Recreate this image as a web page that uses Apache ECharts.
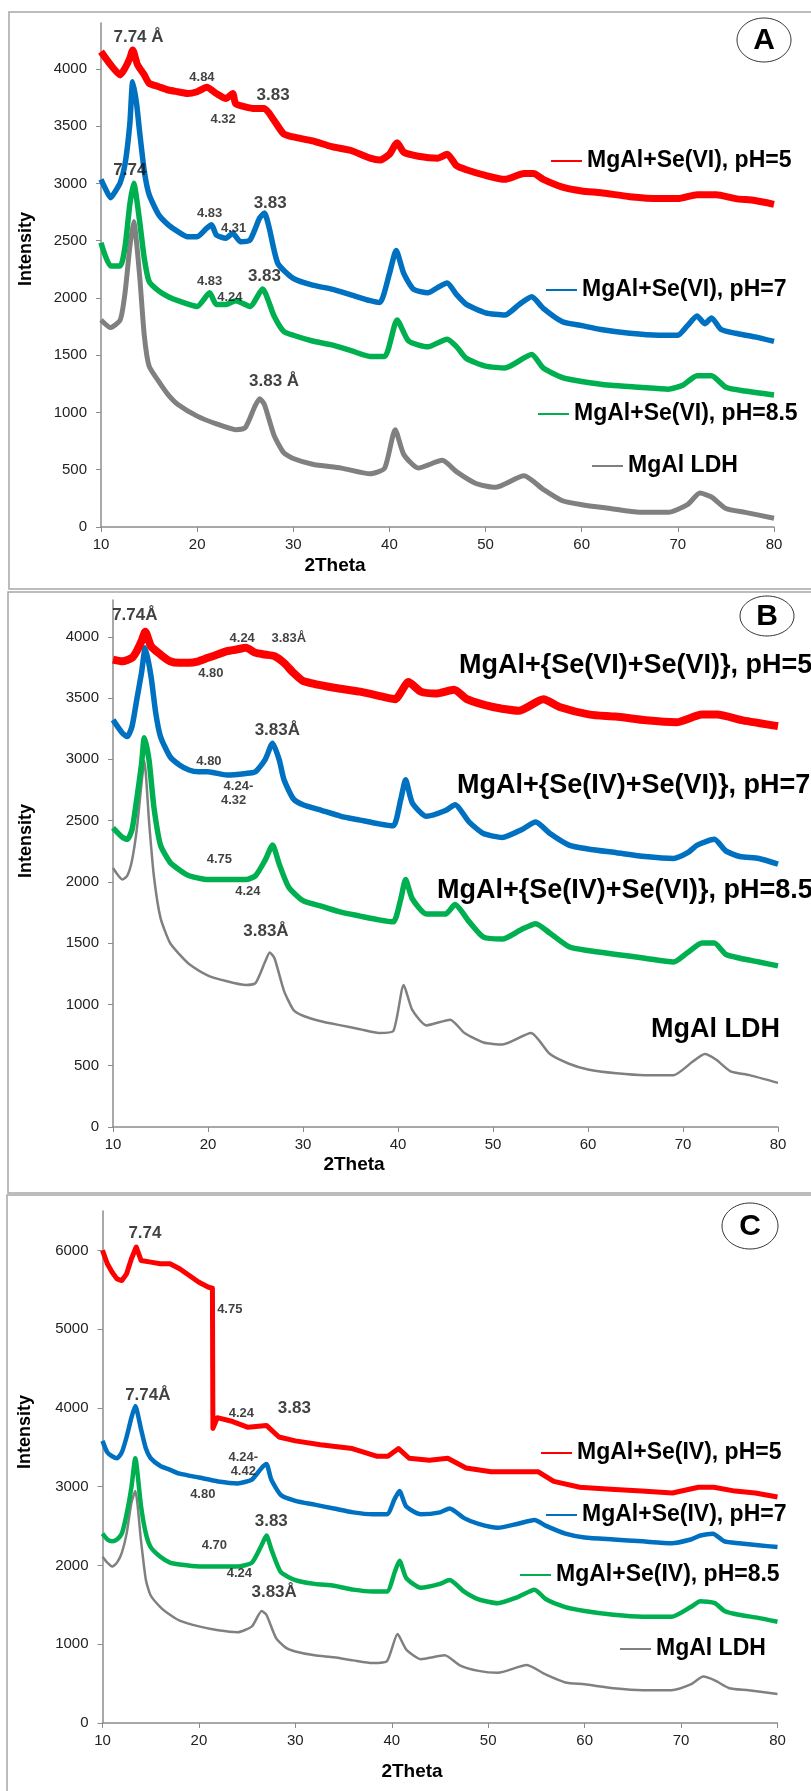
<!DOCTYPE html>
<html lang="en">
<head>
  <meta charset="UTF-8">
  <script src="https://cdn.jsdelivr.net/npm/echarts@6/dist/echarts.min.js"></script>
  <title>XRD patterns</title>
  <style>html, body { margin: 0; padding: 0; background: #fff; }</style>
</head>
<body>
  <div id="xrd" style="width: 811px; height: 1791px;"></div>

  <script>
    // axis ticks
    var twoThetaTicks = [10, 20, 30, 40, 50, 60, 70, 80];
    var intensityTicksAB = [0, 500, 1000, 1500, 2000, 2500, 3000, 3500, 4000];
    var intensityTicksC = [0, 1000, 2000, 3000, 4000, 5000, 6000];

    // series names
    var namesA = ['MgAl+Se(VI), pH=5', 'MgAl+Se(VI), pH=7', 'MgAl+Se(VI), pH=8.5', 'MgAl LDH'];
    var namesB = ['MgAl+{Se(VI)+Se(VI)}, pH=5', 'MgAl+{Se(IV)+Se(VI)}, pH=7', 'MgAl+{Se(IV)+Se(VI)}, pH=8.5', 'MgAl LDH'];
    var namesC = ['MgAl+Se(IV), pH=5', 'MgAl+Se(IV), pH=7', 'MgAl+Se(IV), pH=8.5', 'MgAl LDH'];

    // ---- panel A : [2theta, intensity] ----
    var seVI_pH5 = [[10,4150],[11,4035],[12,3947],[12.5,4006],[13,4094],[13.3,4165],[13.8,4035],[14.5,3947],[15,3874],[16,3844],[17,3815],[18,3800],[19,3785],[20,3800],[21,3838],[22,3785],[23,3741],[23.7,3785],[24,3697],[25,3668],[26,3653],[27,3653],[28,3550],[29,3432],[30,3405],[32,3371],[34,3321],[36,3287],[38,3220],[39,3203],[40,3254],[40.8,3355],[41.5,3271],[43,3237],[45,3220],[46,3254],[47,3153],[48,3119],[50,3069],[52,3035],[54,3086],[55,3086],[56,3035],[58,2968],[60,2934],[62,2918],[65,2884],[68,2867],[70,2867],[72,2901],[74,2901],[76,2867],[78,2850],[80,2817]];
    var seVI_pH7 = [[10,3035],[10.5,2947],[11,2874],[11.5,2932],[12,3006],[12.5,3168],[13,3521],[13.3,3888],[13.7,3697],[14,3462],[14.5,3109],[15,2903],[16,2726],[17,2638],[18,2579],[19,2535],[20,2535],[21,2609],[21.5,2638],[22,2550],[23,2521],[23.7,2565],[24.5,2491],[25.5,2506],[26.5,2697],[27,2741],[27.5,2609],[28.4,2300],[30,2170],[32,2111],[34,2077],[36,2027],[38,1976],[39,1960],[40,2212],[40.7,2413],[41.5,2212],[42.5,2077],[44,2044],[45,2090],[46,2130],[47,2027],[48,1943],[50,1870],[52,1850],[53.5,1943],[54.8,2010],[56,1909],[58,1792],[60,1758],[62,1724],[65,1691],[68,1674],[70,1674],[71,1758],[72,1842],[72.8,1775],[73.5,1825],[74.5,1724],[76,1691],[78,1660],[80,1620]];
    var seVI_pH85 = [[10,2481],[11,2279],[12,2279],[12.5,2447],[13,2817],[13.4,3002],[14,2682],[14.5,2346],[15,2145],[16,2061],[17,2010],[18,1976],[20,1926],[21.3,2044],[22,1943],[23,1943],[24,1976],[25.5,1926],[26.8,2077],[28,1842],[29,1708],[30,1674],[32,1624],[34,1590],[36,1540],[38,1489],[39.5,1489],[40.8,1808],[42,1624],[44,1573],[46,1640],[47,1573],[48,1472],[50,1405],[52,1388],[54.8,1506],[56,1388],[58,1304],[60,1271],[63,1237],[66,1220],[69,1203],[70.5,1237],[72,1321],[73.5,1321],[75,1220],[77,1187],[80,1153]];
    var ldhA = [[10,1808],[11,1741],[12,1808],[12.5,2044],[13,2447],[13.4,2666],[14,2212],[14.5,1674],[15,1405],[16,1271],[17,1153],[18,1069],[20,968],[22,901],[24,850],[25,867],[26,1052],[26.5,1119],[27,1069],[28,800],[29,649],[30,598],[32,548],[35,514],[38,464],[39.5,514],[40.6,850],[41.5,632],[43,514],[45.5,582],[47,481],[49,380],[51,346],[54,447],[56,329],[58,229],[60,195],[63,161],[66,128],[69,128],[71,195],[72.3,296],[73.5,262],[75,161],[77,128],[80,77]];

    // ---- panel B ----
    var mix_pH5 = [[10,3814],[11,3800],[12,3828],[12.5,3883],[13,3964],[13.4,4040],[14,3923],[15,3855],[16,3800],[17,3787],[18,3787],[19,3800],[20,3828],[21,3855],[22,3883],[23,3896],[24,3910],[25,3869],[26,3855],[27,3842],[28,3787],[29,3705],[30,3640],[33.3,3584],[36,3552],[38.7,3505],[39.7,3490],[41.1,3630],[42.4,3552],[44,3537],[45.9,3568],[47.3,3490],[50,3427],[52.7,3396],[55.3,3490],[57,3427],[60.2,3365],[62.9,3349],[66.1,3318],[69.3,3302],[72,3365],[73.6,3365],[76.3,3318],[80,3271]];
    var mix_pH7 = [[10,3322],[11,3213],[11.5,3186],[12,3268],[12.5,3486],[13,3705],[13.4,3910],[14,3678],[14.5,3377],[15,3186],[16,3022],[17,2954],[18,2913],[19,2899],[20,2899],[22,2872],[24,2885],[25,2899],[26,2995],[26.8,3131],[27.5,2995],[28,2833],[29,2676],[30,2629],[32,2582],[34,2535],[36,2504],[38,2473],[39.5,2457],[40.3,2676],[40.8,2833],[41.5,2645],[43,2535],[45,2582],[46,2629],[47.5,2488],[49,2394],[51,2363],[53,2426],[54.5,2488],[56,2394],[58,2300],[60,2269],[63,2238],[66,2207],[69,2191],[70.5,2238],[71.5,2300],[73.3,2347],[74.5,2253],[76,2207],[78,2191],[80,2144]];
    var mix_pH85 = [[10,2441],[11,2363],[11.5,2347],[12,2426],[12.5,2676],[13,2958],[13.3,3177],[13.8,2989],[14.3,2613],[15,2300],[16,2160],[17,2097],[18,2050],[20,2019],[22,2019],[24,2019],[25,2050],[26,2175],[26.8,2300],[27.5,2144],[28.5,1956],[30,1847],[32,1800],[34,1753],[36,1721],[38,1690],[39.5,1674],[40.3,1862],[40.8,2019],[41.5,1862],[43,1737],[45,1737],[46,1815],[47.5,1674],[49,1549],[51,1534],[53,1612],[54.5,1659],[56,1581],[58,1471],[60,1440],[63,1408],[66,1377],[69,1346],[70.5,1424],[72,1502],[73.3,1502],[74.5,1408],[76,1377],[78,1346],[80,1315]];
    var ldhB = [[10,2113],[11,2019],[11.5,2050],[12,2175],[12.5,2426],[13,2801],[13.3,2989],[13.8,2488],[14.3,2050],[15,1706],[16,1502],[17,1408],[18,1330],[20,1236],[22,1189],[24,1158],[25,1174],[26,1346],[26.5,1424],[27,1377],[28,1111],[29,955],[30,908],[32,861],[34,829],[36,798],[38,767],[39.5,782],[40.6,1158],[41.5,955],[43,829],[45.5,876],[47,767],[49,689],[51,673],[54,767],[56,595],[58,516],[60,469],[63,438],[66,423],[69,423],[71,532],[72.3,595],[73.5,548],[75,454],[77,423],[80,360]];

    // ---- panel C ----
    var seIV_pH5 = [[10,6000],[10.5,5830],[11,5723],[11.5,5638],[12,5617],[12.5,5702],[13,5894],[13.5,6043],[14,5872],[15,5851],[16,5830],[17,5830],[18,5766],[19,5681],[20,5596],[21,5532],[21.4,5520],[21.45,3740],[21.9,3876],[23.5,3827],[25.1,3754],[27,3778],[28.3,3631],[30,3582],[32.6,3533],[35.9,3484],[38.5,3386],[39.6,3386],[40.7,3484],[41.8,3361],[43.9,3337],[45.8,3361],[47.7,3238],[50.3,3189],[53,3189],[55.2,3189],[56.8,3067],[59.5,2993],[62.7,2969],[65.9,2944],[69.1,2920],[71.8,2993],[73.4,2993],[75.6,2944],[77.7,2920],[80,2870]];
    var seIV_pH7 = [[10,3582],[10.5,3435],[11,3386],[11.5,3361],[12,3435],[12.5,3631],[13,3876],[13.4,4024],[14,3729],[14.5,3484],[15,3361],[16,3263],[17,3214],[18,3165],[20,3116],[22,3067],[24,3042],[25.5,3091],[26.5,3238],[27,3288],[27.5,3091],[28.5,2895],[30,2821],[32,2772],[34,2723],[36,2674],[38,2650],[39.5,2650],[40.3,2846],[40.8,2944],[41.5,2748],[43,2650],[45,2674],[46,2723],[47.5,2601],[49,2527],[51,2478],[53,2527],[54.8,2576],[56,2502],[58,2404],[60,2355],[63,2330],[66,2306],[69,2282],[71,2330],[72,2380],[73.3,2404],[74.5,2306],[76,2282],[78,2257],[80,2233]];
    var seIV_pH85 = [[10,2404],[10.5,2331],[11,2306],[11.5,2331],[12,2404],[12.5,2650],[13,2993],[13.4,3361],[14,2748],[14.5,2404],[15,2233],[16,2110],[17,2036],[18,2012],[20,1987],[22,1987],[24,1987],[25.5,2036],[26.5,2257],[27,2380],[27.5,2208],[28.5,1914],[30,1815],[32,1766],[34,1742],[36,1693],[38,1668],[39.5,1668],[40.3,1914],[40.8,2061],[41.5,1840],[43,1717],[45,1766],[46,1815],[47.5,1668],[49,1570],[51,1521],[53,1595],[54.8,1693],[56,1570],[58,1472],[60,1423],[63,1374],[66,1349],[69,1349],[71,1472],[72,1546],[73.5,1521],[74.5,1423],[76,1374],[78,1335],[80,1286]];
    var ldhC = [[10,2110],[10.5,2036],[11,1987],[11.5,2036],[12,2159],[12.5,2404],[13,2797],[13.4,2944],[14,2306],[14.5,1815],[15,1619],[16,1472],[17,1374],[18,1300],[20,1227],[22,1178],[24,1153],[25.5,1227],[26.5,1423],[27,1374],[28,1079],[29,957],[30,908],[32,859],[34,834],[36,795],[38,761],[39.5,785],[40.6,1129],[41.5,932],[43,810],[45.5,859],[47,736],[49,662],[51,638],[54,736],[56,613],[58,515],[60,491],[63,442],[66,417],[69,417],[71,491],[72.3,589],[73.5,540],[75,442],[77,417],[80,368]];

    // peak annotations [2theta, intensity, text]
    var peaksA = [[13.9,4276,'7.74 Å'],[27.9,3770,'3.83'],[13.0,3115,'7.74'],[27.6,2827,'3.83'],[27.0,2190,'3.83'],[28.0,1274,'3.83 Å']];
    var minorA = [[20.5,3927,'4.84'],[22.7,3560,'4.32'],[21.3,2740,'4.83'],[23.8,2609,'4.31'],[21.3,2146,'4.83'],[23.4,2007,'4.24']];
    var peaksB = [[12.3,4179,'7.74Å'],[27.3,3240,'3.83Å'],[26.1,1597,'3.83Å']];
    var minorB = [[23.6,3984,'4.24'],[28.5,3984,'3.83Å'],[20.3,3699,'4.80'],[20.1,2984,'4.80'],[23.2,2780,'4.24-'],[22.7,2667,'4.32'],[21.2,2182,'4.75'],[24.2,1919,'4.24']];
    var peaksC = [[14.4,6214,'7.74'],[14.7,4160,'7.74Å'],[29.9,3995,'3.83'],[27.5,2560,'3.83'],[27.8,1659,'3.83Å']];
    var minorC = [[23.2,5250,'4.75'],[24.4,3930,'4.24'],[24.6,3371,'4.24-'],[24.6,3194,'4.42'],[20.4,2900,'4.80'],[21.6,2255,'4.70'],[24.2,1893,'4.24']];

    var FONT = '"Liberation Sans", Arial, sans-serif';
    var colors = ['#ff0000', '#0070c0', '#00b050', '#808080'];

    var chart = echarts.init(document.getElementById('xrd'));

    function xAxisFor(grid) {
      return {
        type: 'value', gridIndex: grid, min: 10, max: 80, interval: 10,
        axisLine: { show: true, lineStyle: { color: '#8c8c8c', width: 1.5 } },
        axisTick: { show: true, length: 5, lineStyle: { color: '#8c8c8c' }, customValues: twoThetaTicks },
        axisLabel: { color: '#222', fontSize: 15, fontFamily: FONT, margin: 10, customValues: twoThetaTicks,
                     formatter: function (v) { return String(v); } },
        splitLine: { show: false }
      };
    }

    function yAxisFor(grid, max, step, ticks) {
      return {
        type: 'value', gridIndex: grid, min: 0, max: max, interval: step,
        axisLine: { show: true, lineStyle: { color: '#8c8c8c', width: 1.5 } },
        axisTick: { show: true, length: 5, lineStyle: { color: '#8c8c8c' }, customValues: ticks },
        axisLabel: { color: '#222', fontSize: 15, fontFamily: FONT, margin: 14, customValues: ticks,
                     formatter: function (v) { return String(v); } },
        splitLine: { show: false }
      };
    }

    // noisy scans are drawn as thick bands
    function curve(name, data, color, width, grid, smooth) {
      return {
        type: 'line', name: name, data: data, xAxisIndex: grid, yAxisIndex: grid,
        symbol: 'none', showSymbol: false, silent: true, animation: false,
        smooth: smooth === undefined ? 0.2 : smooth,
        lineStyle: { color: color, width: width, join: 'round' },
        itemStyle: { color: color }
      };
    }

    function notes(list, size, grid) {
      return {
        type: 'scatter', xAxisIndex: grid, yAxisIndex: grid, silent: true, animation: false,
        symbolSize: 1, itemStyle: { color: 'transparent' }, z: 5,
        data: list.map(function (d) { return { value: [d[0], d[1]], name: d[2] }; }),
        label: { show: true, position: 'inside', formatter: '{b}', color: '#111',
                 fontSize: size, fontWeight: 'bold', fontFamily: FONT }
      };
    }

    function legendItem(name, left, centerY, size, withLine) {
      var lh = Math.round(size * 1.15);
      return {
        data: [name], left: left, top: centerY - lh / 2, padding: 0, selectedMode: false,
        icon: 'rect', itemWidth: withLine ? 31 : 0, itemHeight: 2,
        textStyle: { fontSize: size, fontWeight: 'bold', color: '#000', fontFamily: FONT, lineHeight: lh }
      };
    }

    function panelText(txt, x, y, size, rotate) {
      return {
        type: 'text', x: x, y: y, rotation: rotate ? Math.PI / 2 : 0, silent: true,
        style: { text: txt, fontSize: size, fontWeight: 'bold', fontFamily: FONT, fill: '#000',
                 textAlign: 'center', textVerticalAlign: 'middle' }
      };
    }

    function badge(letter, cx, cy, rx, ry) {
      return [
        { type: 'ellipse', shape: { cx: cx, cy: cy, rx: rx, ry: ry }, silent: true,
          style: { fill: '#fff', stroke: '#333', lineWidth: 1 } },
        panelText(letter, cx, cy + 1, 30, false)
      ];
    }

    var graphics = [
      { type: 'rect', shape: { x: 9, y: 12, width: 830, height: 577 }, silent: true, style: { fill: 'none', stroke: '#a6a6a6', lineWidth: 1.5 } },
      { type: 'rect', shape: { x: 8, y: 592, width: 830, height: 601 }, silent: true, style: { fill: 'none', stroke: '#a6a6a6', lineWidth: 1.5 } },
      { type: 'rect', shape: { x: 7, y: 1195, width: 830, height: 700 }, silent: true, style: { fill: 'none', stroke: '#a6a6a6', lineWidth: 1.5 } },
      panelText('Intensity', 26, 249, 18, true),
      panelText('Intensity', 26, 841, 18, true),
      panelText('Intensity', 25, 1432, 18, true),
      panelText('2Theta', 335, 566, 19, false),
      panelText('2Theta', 354, 1165, 19, false),
      panelText('2Theta', 412, 1772, 19, false)
    ].concat(badge('A', 764, 40, 27, 22), badge('B', 767, 616, 27, 20), badge('C', 750, 1226, 28, 23));

    var option = {
      animation: false,
      textStyle: { fontFamily: FONT },
      grid: [
        { left: 101, top: 23, width: 673, height: 504, containLabel: false, outerBoundsMode: 'none' },
        { left: 113, top: 600, width: 665, height: 527, containLabel: false, outerBoundsMode: 'none' },
        { left: 102.5, top: 1211, width: 675, height: 512, containLabel: false, outerBoundsMode: 'none' }
      ],
      xAxis: [xAxisFor(0), xAxisFor(1), xAxisFor(2)],
      yAxis: [
        yAxisFor(0, 4400, 500, intensityTicksAB),
        yAxisFor(1, 4300, 500, intensityTicksAB),
        yAxisFor(2, 6500, 500, intensityTicksC)
      ],
      legend: [
        legendItem(namesA[0], 551, 161, 23, true),
        legendItem(namesA[1], 546, 290, 23, true),
        legendItem(namesA[2], 538, 414, 23, true),
        legendItem(namesA[3], 592, 466, 23, true),
        legendItem(namesB[0], 454, 666, 27, false),
        legendItem(namesB[1], 452, 786, 27, false),
        legendItem(namesB[2], 432, 891, 27, false),
        legendItem(namesB[3], 646, 1030, 27, false),
        legendItem(namesC[0], 541, 1453, 23, true),
        legendItem(namesC[1], 546, 1515, 23, true),
        legendItem(namesC[2], 520, 1575, 23, true),
        legendItem(namesC[3], 620, 1649, 23, true)
      ],
      graphic: graphics,
      series: [
        curve(namesA[3], ldhA, colors[3], 5, 0),
        curve(namesA[2], seVI_pH85, colors[2], 5.5, 0),
        curve(namesA[1], seVI_pH7, colors[1], 5.5, 0),
        curve(namesA[0], seVI_pH5, colors[0], 7, 0),
        curve(namesB[3], ldhB, colors[3], 2.5, 1),
        curve(namesB[2], mix_pH85, colors[2], 5.5, 1),
        curve(namesB[1], mix_pH7, colors[1], 5.5, 1),
        curve(namesB[0], mix_pH5, colors[0], 8, 1),
        curve(namesC[3], ldhC, colors[3], 2.5, 2),
        curve(namesC[2], seIV_pH85, colors[2], 4.5, 2),
        curve(namesC[1], seIV_pH7, colors[1], 4.5, 2),
        curve(namesC[0], seIV_pH5, colors[0], 5, 2, false),
        notes(peaksA, 17, 0), notes(minorA, 13, 0),
        notes(peaksB, 17, 1), notes(minorB, 13, 1),
        notes(peaksC, 17, 2), notes(minorC, 13, 2)
      ]
    };

    chart.setOption(option);
  </script>
</body>
</html>
